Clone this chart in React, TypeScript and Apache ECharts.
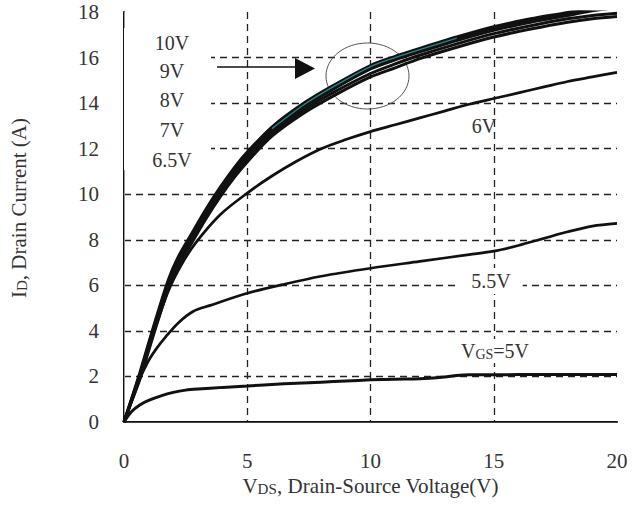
import React, { useEffect, useRef } from "react";
import * as echarts from "echarts";

// ---- data ----
const xTicks = [0, 5, 10, 15, 20];
const yTicks = [0, 2, 4, 6, 8, 10, 12, 14, 16, 18];

const vdsHigh = [0, 0.3, 0.64, 1.2, 1.8, 2.2, 2.76, 3.3, 3.9, 4.5, 5, 6, 7.3, 8.5, 10, 11, 12, 13.5, 15, 16.5, 18, 19, 20];
const id10V = [0, 1.0, 2.15, 4.2, 6.25, 7.25, 8.3, 9.3, 10.3, 11.2, 11.85, 12.95, 14.0, 14.78, 15.65, 16.05, 16.4, 16.9, 17.35, 17.7, 17.98, 18.2, 18.4];
const id9V = [0, 0.97, 2.08, 4.12, 6.15, 7.15, 8.2, 9.2, 10.2, 11.1, 11.75, 12.88, 13.93, 14.72, 15.6, 16.0, 16.35, 16.85, 17.3, 17.65, 17.93, 18.15, 18.35];
const id8V = [0, 0.94, 2.0, 4.02, 6.05, 7.05, 8.1, 9.1, 10.1, 11.0, 11.65, 12.78, 13.83, 14.62, 15.5, 15.9, 16.25, 16.75, 17.2, 17.55, 17.85, 18.05, 18.2];
const id7V = [0, 0.91, 1.93, 3.93, 5.95, 6.95, 8.0, 9.0, 10.0, 10.9, 11.55, 12.68, 13.7, 14.47, 15.3, 15.72, 16.1, 16.6, 17.05, 17.4, 17.7, 17.85, 17.95];
const id65V = [0, 0.88, 1.86, 3.84, 5.85, 6.85, 7.88, 8.88, 9.88, 10.77, 11.42, 12.55, 13.57, 14.32, 15.15, 15.55, 15.95, 16.45, 16.9, 17.25, 17.55, 17.7, 17.8];

const vds6V = [0, 0.3, 0.64, 1.2, 1.8, 2.3, 2.9, 3.9, 5, 6, 7, 8, 9, 10, 11, 12, 13, 14, 15, 16, 17, 18, 19, 20];
const id6V = [0, 0.9, 1.95, 3.9, 5.75, 6.85, 7.85, 9.1, 10.05, 10.8, 11.45, 12.0, 12.4, 12.75, 13.05, 13.35, 13.65, 13.95, 14.2, 14.45, 14.7, 14.95, 15.15, 15.35];

const vds55V = [0, 0.3, 0.64, 1.0, 1.3, 1.7, 2.2, 2.8, 3.5, 5, 6.5, 8, 10, 12, 14, 15, 16, 17, 18, 19, 20];
const id55V = [0, 0.9, 1.9, 2.7, 3.2, 3.75, 4.35, 4.85, 5.12, 5.65, 6.05, 6.4, 6.75, 7.05, 7.35, 7.5, 7.75, 8.05, 8.35, 8.6, 8.72];

const vds5V = [0, 0.3, 0.64, 1.0, 1.5, 2.0, 2.5, 3, 4, 5, 6, 7, 8, 9, 10, 11, 12, 13, 13.5, 14, 16, 18, 20];
const id5V = [0, 0.45, 0.75, 0.95, 1.15, 1.3, 1.4, 1.45, 1.52, 1.58, 1.65, 1.7, 1.75, 1.8, 1.85, 1.88, 1.9, 1.98, 2.04, 2.07, 2.08, 2.08, 2.08];

const bunchLabels = ["10V", "9V", "8V", "7V", "6.5V"];

const pairs = (xs: number[], ys: number[]) => xs.map((x, i) => [x, ys[i]]);

const FONT = "'Liberation Serif', 'DejaVu Serif', serif";
const TXT = "#333";

export default function App() {
  const ref = useRef<HTMLDivElement>(null);
  useEffect(() => {
    if (!ref.current) return;
    const chart = echarts.init(ref.current, undefined, { renderer: "svg" });
    const mkLine = (name: string, data: number[][], color: string, width: number, z = 2) => ({
      name,
      type: "line",
      data,
      showSymbol: false,
      symbol: "none",
      smooth: 0.3,
      clip: true,
      z,
      lineStyle: { color, width },
    });
    const bunchLabelY = [43, 71, 100, 130, 160];
    const tealPart = pairs(vdsHigh, id9V).filter((p) => p[0] >= 6 && p[0] <= 13.5);
    chart.setOption({
      animation: false,
      backgroundColor: "#fff",
      grid: { left: 122, top: 12, width: 495, height: 410, show: false },
      xAxis: [
        {
          type: "value",
          min: xTicks[0],
          max: xTicks[xTicks.length - 1],
          interval: 5,
          name: "{a|V}{b|DS}{a|, Drain-Source Voltage(V)}",
          nameLocation: "middle",
          nameGap: 45,
          nameTextStyle: {
            color: TXT,
            fontFamily: FONT,
            rich: {
              a: { fontSize: 21, fontFamily: FONT, color: TXT, verticalAlign: "bottom" },
              b: { fontSize: 15, fontFamily: FONT, color: TXT, verticalAlign: "bottom" },
            },
          },
          axisLine: { lineStyle: { color: "#111", width: 2 } },
          axisTick: { show: false },
          axisLabel: { margin: 28, fontSize: 21, color: TXT, fontFamily: FONT },
          splitLine: {
            show: true,
            showMinLine: false,
            showMaxLine: false,
            lineStyle: { type: [7, 5], color: "#222", width: 1.3 },
          },
        },
        {
          type: "value",
          position: "top",
          min: 0,
          max: 20,
          axisLine: { show: true, lineStyle: { color: "#444", width: 1 } },
          axisTick: { show: false },
          axisLabel: { show: false },
          splitLine: { show: false },
        },
      ],
      yAxis: [
        {
          type: "value",
          min: yTicks[0],
          max: yTicks[yTicks.length - 1],
          interval: 2,
          name: "{a|I}{b|D}{a|, Drain Current (A)}",
          nameLocation: "middle",
          nameGap: 95,
          nameTextStyle: {
            color: TXT,
            fontFamily: FONT,
            padding: [0, 0, 0, 18],
            rich: {
              a: { fontSize: 21, fontFamily: FONT, color: TXT, verticalAlign: "bottom" },
              b: { fontSize: 15, fontFamily: FONT, color: TXT, verticalAlign: "bottom" },
            },
          },
          axisLine: { show: true, lineStyle: { color: "#111", width: 2 } },
          axisTick: { show: false },
          axisLabel: { margin: 25, fontSize: 21, color: TXT, fontFamily: FONT },
          splitLine: {
            show: true,
            showMinLine: false,
            showMaxLine: false,
            lineStyle: { type: [7, 5], color: "#222", width: 1.3 },
          },
        },
        {
          type: "value",
          position: "right",
          min: 0,
          max: 18,
          axisLine: { show: true, lineStyle: { color: "#999", width: 1 } },
          axisTick: { show: false },
          axisLabel: { show: false },
          splitLine: { show: false },
        },
      ],
      series: [
        mkLine("10V", pairs(vdsHigh, id10V), "#111", 3, 3),
        mkLine("9V", pairs(vdsHigh, id9V), "#111", 3, 3),
        mkLine("8V", pairs(vdsHigh, id8V), "#111", 3, 3),
        mkLine("7V", pairs(vdsHigh, id7V), "#111", 3, 3),
        mkLine("6.5V", pairs(vdsHigh, id65V), "#111", 3, 3),
        mkLine("6V", pairs(vds6V, id6V), "#111", 2.7, 3),
        mkLine("5.5V", pairs(vds55V, id55V), "#111", 2.7, 3),
        mkLine("5V", pairs(vds5V, id5V), "#111", 3, 3),
        mkLine("9V (trace)", tealPart, "#2b8585", 1.4, 4),
      ],
      graphic: [
        { type: "rect", z: 1, shape: { x: 124, y: 28, width: 87, height: 142 }, style: { fill: "#fff" } },
        { type: "ellipse", z: 1, shape: { cx: 367.5, cy: 76, rx: 41.5, ry: 33 }, style: { fill: "none", stroke: "#555", lineWidth: 1 } },
        { type: "line", z: 5, shape: { x1: 217, y1: 67, x2: 298, y2: 67 }, style: { stroke: "#111", lineWidth: 1.6 } },
        { type: "polygon", z: 5, shape: { points: [[295, 58], [295, 79], [315, 68.5]] }, style: { fill: "#111" } },
        ...bunchLabels.map((t, i) => ({
          type: "text",
          z: 5,
          x: 172,
          y: bunchLabelY[i],
          style: { text: t, fill: TXT, font: `20px ${FONT}`, align: "center", verticalAlign: "middle" },
        })),
        {
          type: "text", z: 5, x: 484, y: 126,
          style: { text: "6V", fill: TXT, font: `20px ${FONT}`, align: "center", verticalAlign: "middle" },
        },
        {
          type: "text", z: 5, x: 491, y: 281,
          style: {
            text: "5.5V", fill: TXT, font: `20px ${FONT}`, align: "center", verticalAlign: "middle",
            backgroundColor: "#fff", padding: [3, 12, 3, 12],
          },
        },
        {
          type: "text", z: 5, x: 495, y: 351,
          style: {
            text: "{a|V}{b|GS}{a|=5V}", fill: TXT, align: "center", verticalAlign: "middle",
            backgroundColor: "#fff", padding: [2, 4, 2, 4],
            rich: {
              a: { fontSize: 20, fontFamily: FONT, fill: TXT, verticalAlign: "bottom" },
              b: { fontSize: 14, fontFamily: FONT, fill: TXT, verticalAlign: "bottom" },
            },
          },
        },
      ],
    });
    return () => chart.dispose();
  }, []);
  return <div ref={ref} style={{ width: 632, height: 506, position: "absolute", left: 0, top: 0 }} />;
}
